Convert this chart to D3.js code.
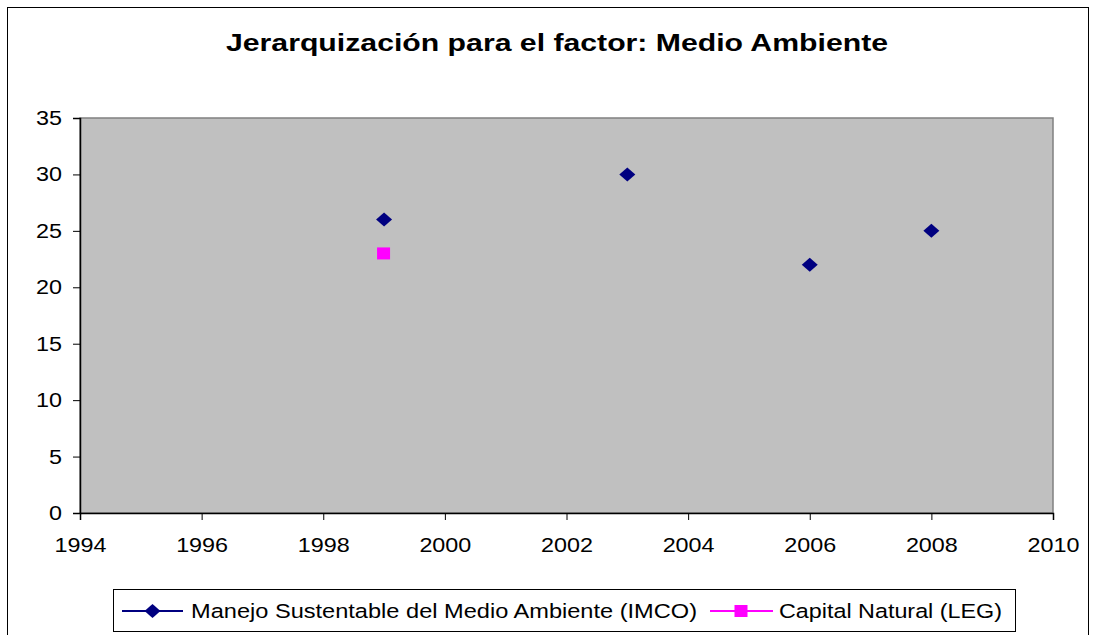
<!DOCTYPE html>
<html>
<head>
<meta charset="utf-8">
<script src="https://cdn.jsdelivr.net/npm/d3@7"></script>
<style>
  body { margin: 0; background: #fff; }
  text { font-family: Arial, "Liberation Sans", sans-serif; fill: #000; }
</style>
</head>
<body>
<svg id="svg" width="1097" height="635"></svg>
<script>
const titleText = 'Jerarquización para el factor: Medio Ambiente'
const seriesNames = ['Manejo Sustentable del Medio Ambiente (IMCO)', 'Capital Natural (LEG)']
const imcoYears = [1999, 2003, 2006, 2008]
const imcoValues = [26, 30, 22, 25]
const legYears = [1999]
const legValues = [23]
const xTicks = [1994, 1996, 1998, 2000, 2002, 2004, 2006, 2008, 2010]
const yTicks = [0, 5, 10, 15, 20, 25, 30, 35]

const plot = { left: 80, right: 1053, top: 118, bottom: 513 }

const svg = d3.select('#svg')

// outer frame
svg.append('rect')
  .attr('x', 7.5).attr('y', 7.5)
  .attr('width', 1081).attr('height', 640)
  .attr('fill', 'none').attr('stroke', '#000').attr('stroke-width', 1)

svg.append('text')
  .text(titleText)
  .attr('x', 226).attr('y', 51)
  .attr('font-weight', 'bold')
  .attr('font-size', 24)
  .attr('textLength', 662)
  .attr('lengthAdjust', 'spacingAndGlyphs')

const xScale = d3.scaleLinear().domain([1994, 2010]).range([plot.left, plot.right])
const yScale = d3.scaleLinear().domain([0, 35]).range([plot.bottom, plot.top])

svg.append('rect')
  .attr('x', plot.left).attr('y', plot.top)
  .attr('width', plot.right - plot.left).attr('height', plot.bottom - plot.top)
  .attr('fill', '#c0c0c0')
  .attr('stroke', '#808080').attr('stroke-width', 1.5)

const leftAxis = d3.axisLeft(yScale).tickValues(yTicks).tickSize(7).tickPadding(11)
const bottomAxis = d3.axisBottom(xScale).tickValues(xTicks).tickFormat(d3.format('d')).tickSize(7).tickPadding(17)

const gy = svg.append('g')
  .attr('transform', `translate(${plot.left}, 0)`)
  .call(leftAxis)
const gx = svg.append('g')
  .attr('transform', `translate(0, ${plot.bottom})`)
  .call(bottomAxis)

;[gx, gy].forEach(g => {
  g.select('.domain').attr('stroke', '#000').attr('stroke-width', 1.5)
  g.selectAll('.tick line').attr('stroke', '#000')
  g.selectAll('.tick text')
    .attr('font-size', 20.5)
    .attr('font-family', 'Arial, "Liberation Sans", sans-serif')
    .attr('fill', '#000')
    .attr('textLength', d => String(d).length * 13)
    .attr('lengthAdjust', 'spacingAndGlyphs')
})

// wide diamond like the Excel marker
const wideDiamond = {
  draw(ctx) {
    ctx.moveTo(-8, 0)
    ctx.lineTo(0, -7)
    ctx.lineTo(8, 0)
    ctx.lineTo(0, 7)
    ctx.closePath()
  }
}
const diamond = d3.symbol().type(wideDiamond)

svg.append('g')
  .selectAll('path')
  .data(imcoYears.map((y, i) => ({ year: y, value: imcoValues[i] })))
  .enter()
  .append('path')
  .attr('d', diamond)
  .attr('transform', d => `translate(${xScale(d.year)}, ${yScale(d.value)})`)
  .attr('fill', '#000080')

svg.append('g')
  .selectAll('rect')
  .data(legYears.map((y, i) => ({ year: y, value: legValues[i] })))
  .enter()
  .append('rect')
  .attr('x', d => xScale(d.year) - 7)
  .attr('y', d => yScale(d.value) - 6)
  .attr('width', 13).attr('height', 12)
  .attr('fill', '#ff00ff')

// legend
const legend = svg.append('g')
legend.append('rect')
  .attr('x', 113.5).attr('y', 589.5)
  .attr('width', 902).attr('height', 42)
  .attr('fill', '#fff').attr('stroke', '#000').attr('stroke-width', 1)

const legendItems = [
  { name: seriesNames[0], color: '#000080', x1: 122, x2: 183, tx: 191, len: 506, shape: 'diamond' },
  { name: seriesNames[1], color: '#ff00ff', x1: 710, x2: 773, tx: 779, len: 223, shape: 'square' }
]

legendItems.forEach(item => {
  legend.append('line')
    .attr('x1', item.x1).attr('x2', item.x2)
    .attr('y1', 611).attr('y2', 611)
    .attr('stroke', item.color).attr('stroke-width', 2)
  const cx = (item.x1 + item.x2) / 2
  if (item.shape === 'diamond') {
    legend.append('path')
      .attr('d', diamond)
      .attr('transform', `translate(${cx}, 611)`)
      .attr('fill', item.color)
  } else {
    legend.append('rect')
      .attr('x', cx - 7).attr('y', 605)
      .attr('width', 13).attr('height', 12)
      .attr('fill', item.color)
  }
  legend.append('text')
    .text(item.name)
    .attr('x', item.tx).attr('y', 618)
    .attr('font-size', 20.5)
    .attr('textLength', item.len)
    .attr('lengthAdjust', 'spacingAndGlyphs')
})
</script>
</body>
</html>
